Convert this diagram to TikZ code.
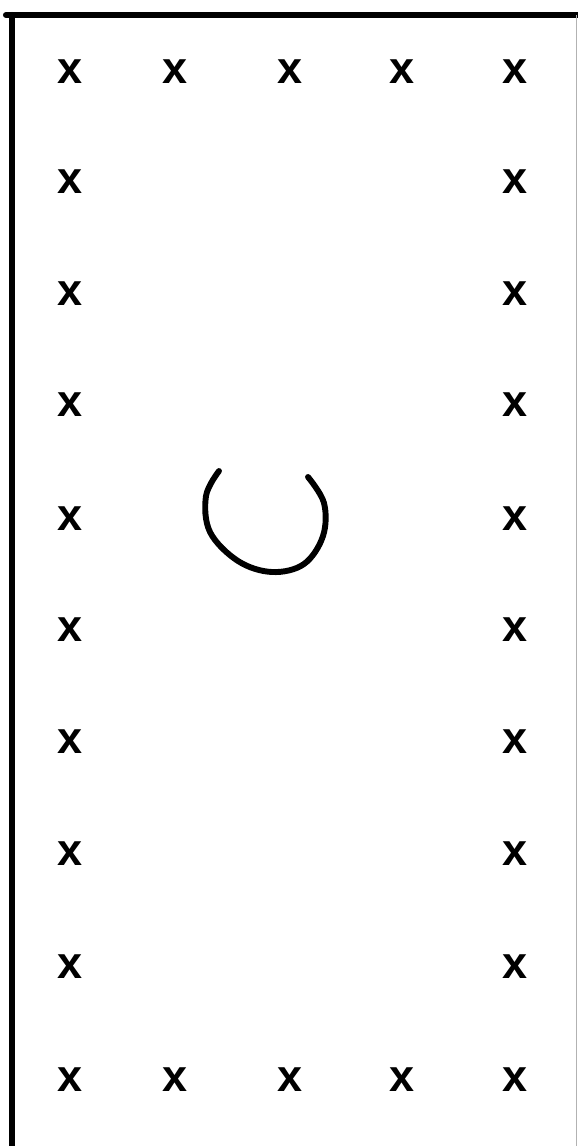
\documentclass[tikz,border=0pt]{standalone}
\usepackage{fontspec}
\setsansfont{Liberation Sans}
\usepackage{tikz}

\begin{document}
\begin{tikzpicture}[
  x=0.025cm, y=-0.025cm,
  xmark/.style={font=\sffamily\bfseries\fontsize{32}{32}\selectfont, inner sep=0pt, text=black},
  edge/.style={line width=4.3pt, line cap=round},
  ring/.style={line width=4.2pt, line cap=round}]
  \useasboundingbox (0,0) rectangle (578,1146);
  % frame
  \coordinate (tl) at (12,15);
  \coordinate (tr) at (578,15);
  \coordinate (bl) at (12,1146);
  \draw[edge] (6,15) -- (tr);
  \draw[edge] (tl) -- (bl);
  \draw[gray!60, line width=0.6pt] (576.5,15) -- (576.5,1146);
  % marks along top and bottom
  \foreach \i/\x in {1/70,2/175,3/290,4/402,5/515} {
    \node[xmark] (top\i) at (\x,72) {x};
    \node[xmark] (bot\i) at (\x,1080) {x};
  }
  % marks along the sides
  \foreach \j/\y in {2/182,3/294,4/405,5/519,6/630,7/742,8/854,9/967} {
    \node[xmark] (left\j) at (70,\y) {x};
    \node[xmark] (right\j) at (515,\y) {x};
  }
  % open ring in the middle
  \draw[ring] plot[smooth, tension=0.6] coordinates {(219,471) (206,496) (210,532) (238,561) (272,572) (304,564) (323,536) (324,503) (308,477)};
\end{tikzpicture}
\end{document}
